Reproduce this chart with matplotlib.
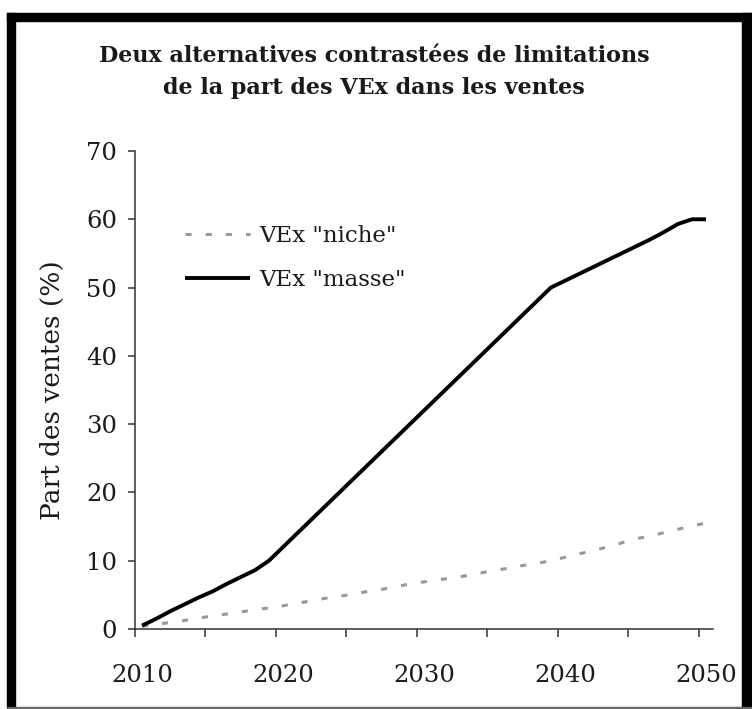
import numpy as np
import matplotlib
matplotlib.use('Agg')
import matplotlib.pyplot as plt
from matplotlib.patches import Rectangle

# data
years = list(range(2010, 2051))
masse = [0.5, 1.5, 2.6, 3.6, 4.6, 5.5, 6.6, 7.6, 8.6, 10.0,
         12.0, 14.0, 16.0, 18.0, 20.0, 22.0, 24.0, 26.0, 28.0, 30.0,
         32.0, 34.0, 36.0, 38.0, 40.0, 42.0, 44.0, 46.0, 48.0, 50.0,
         51.0, 52.0, 53.0, 54.0, 55.0, 56.0, 57.0, 58.1, 59.3, 60.0,
         60.0]
niche = [0.4, 0.7, 0.95, 1.25, 1.6, 1.9, 2.2, 2.5, 2.8, 3.1,
         3.4, 3.8, 4.1, 4.5, 4.8, 5.1, 5.5, 5.8, 6.2, 6.6,
         6.9, 7.2, 7.5, 7.8, 8.2, 8.6, 8.9, 9.3, 9.6, 10.0,
         10.5, 11.0, 11.5, 12.0, 12.6, 13.2, 13.6, 14.1, 14.6, 15.1,
         15.5]
labels = ['VEx "niche"', 'VEx "masse"']
title = "Deux alternatives contrastées de limitations\nde la part des VEx dans les ventes"
ylabel = "Part des ventes (%)"
xlabels = [2010, 2020, 2030, 2040, 2050]

plt.rcParams['font.family'] = ['DejaVu Serif']

W, H = 752, 709
fig = plt.figure(figsize=(W / 100, H / 100), dpi=100)
fig.patch.set_facecolor('white')

ax = fig.add_axes([135 / W, 1 - 629 / H, 578 / W, (629 - 151) / H])

ax.plot(years, niche, color='#999999', lw=2.2, dashes=(2.0, 4.6),
        dash_capstyle='butt', label=labels[0])
ax.plot(years, masse, color='black', lw=2.8, solid_capstyle='butt',
        label=labels[1])

ax.set_xlim(2009.5, 2050.5)
ax.set_ylim(0, 70)
ax.set_yticks(range(0, 71, 10))
ax.set_xticks(xlabels)
ax.set_xticks(np.arange(2009.5, 2050, 5), minor=True)
ax.tick_params(axis='x', which='major', length=0, pad=25, labelsize=17.5,
               labelcolor='#1a1a1a')
ax.tick_params(axis='x', which='minor', length=6, width=1.1, color='#333333',
               direction='out')
ax.tick_params(axis='y', length=5, width=1.1, color='#333333', pad=8,
               labelsize=17.5, labelcolor='#1a1a1a')

for s in ['top', 'right']:
    ax.spines[s].set_visible(False)
for s in ['left', 'bottom']:
    ax.spines[s].set_color('#333333')
    ax.spines[s].set_linewidth(1.1)

ax.set_ylabel(ylabel, fontsize=19, color='#1a1a1a', labelpad=15)

leg = ax.legend(loc='upper left', bbox_to_anchor=(185 / W, 1 - 225 / H),
                bbox_transform=fig.transFigure, frameon=False, fontsize=16.5,
                handlelength=2.85, handletextpad=0.4, labelspacing=0.95,
                borderpad=0, borderaxespad=0)
for t in leg.get_texts():
    t.set_color('#1a1a1a')

fig.text(374 / W, 1 - 72 / H, title, ha='center', va='center',
         fontsize=16, fontweight='bold', color='#1a1a1a', linespacing=1.55)

# black frame around the picture
fig.patches.append(Rectangle((7 / W, 0), 8 / W, 1 - 13 / H, transform=fig.transFigure,
                             color='black', zorder=10))
fig.patches.append(Rectangle((7 / W, 1 - 21 / H), 1 - 7 / W, 8 / H,
                             transform=fig.transFigure, color='black', zorder=10))
fig.patches.append(Rectangle((742 / W, 0), 10 / W, 1 - 13 / H,
                             transform=fig.transFigure, color='black', zorder=10))
fig.patches.append(Rectangle((7 / W, 1 / H), 1 - 7 / W, 1.5 / H,
                             transform=fig.transFigure, color='#666666', zorder=10))

fig.savefig('out.png', dpi=100)
